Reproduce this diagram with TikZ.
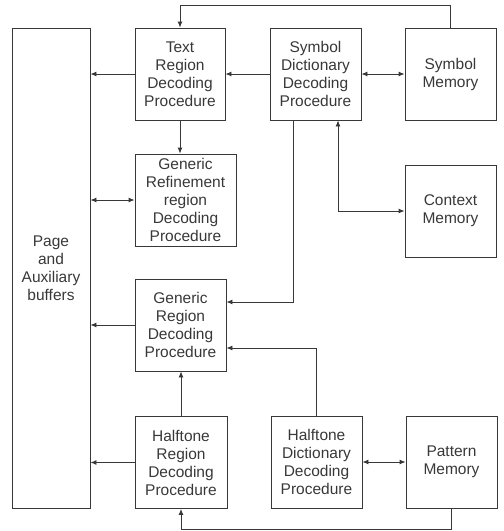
\documentclass[tikz,border=0pt]{standalone}
\usepackage{fontspec}
\setmainfont{Liberation Sans}
\usetikzlibrary{arrows.meta}
\definecolor{ink}{gray}{0.22}
\begin{document}
\begin{tikzpicture}[x=1pt,y=-1pt,
  box/.style={draw=ink,line width=0.9pt,rectangle,align=center,text=ink,
    font=\fontsize{15.5}{18}\selectfont,inner sep=0pt,minimum height=92pt,minimum width=91pt},
  conn/.style={draw=ink,line width=0.9pt,-{Latex[length=6pt,width=5pt]}},
  bconn/.style={draw=ink,line width=0.9pt,{Latex[length=6pt,width=5pt]}-{Latex[length=6pt,width=5pt]}},
  plain/.style={draw=ink,line width=0.9pt}]
\useasboundingbox (0,0) rectangle (504,531);
\node[box,minimum width=78pt,minimum height=480pt] (page) at (51,268) {Page\\and\\Auxiliary\\buffers};
\node[box,minimum width=90pt] (text) at (180,74) {Text\\Region\\Decoding\\Procedure};
\node[box,minimum width=101pt] (gref) at (185.5,200) {Generic\\Refinement\\region\\Decoding\\Procedure};
\node[box] (symdict) at (315.5,74) {Symbol\\Dictionary\\Decoding\\Procedure};
\node[box] (symmem) at (450.5,74) {Symbol\\Memory};
\node[box] (ctx) at (450.5,211) {Context\\Memory};
\node[box] (genreg) at (180.5,325) {Generic\\Region\\Decoding\\Procedure};
\node[box,minimum width=92pt] (htreg) at (181,462.5) {Halftone\\Region\\Decoding\\Procedure};
\node[box] (htdict) at (316.5,462) {Halftone\\Dictionary\\Decoding\\Procedure};
\node[box] (patmem) at (451.5,462) {Pattern\\Memory};
\coordinate (top) at (0,5);
% connectors
\draw[conn] (symmem.north) -- (symmem.north |- top) -| (text.north);
\draw[conn] (symdict.west) -- (text.east);
\draw[conn] (text.west) -- (text.west -| page.east);
\draw[conn] (text.south) -- (text.south |- gref.north);
\draw[bconn] (gref.west -| page.east) -- (gref.west);
\draw[bconn] (symdict.east) -- (symmem.west);
\draw[bconn] ([xshift=22.5pt]symdict.south) |- (ctx.west);
\draw[conn] ([xshift=-22.5pt]symdict.south) |- ([yshift=23pt]genreg.east);
\draw[conn] (htdict.north) |- ([yshift=-23pt]genreg.east);
\draw[conn] (genreg.west) -- (genreg.west -| page.east);
\draw[conn] (htreg.north) -- (htreg.north |- genreg.south);
\draw[conn] (htreg.west) -- (htreg.west -| page.east);
\draw[bconn] (htdict.east) -- (patmem.west);
\draw[conn] (patmem.south) -- ++(0,21) -| (htreg.south);
\end{tikzpicture}
\end{document}
